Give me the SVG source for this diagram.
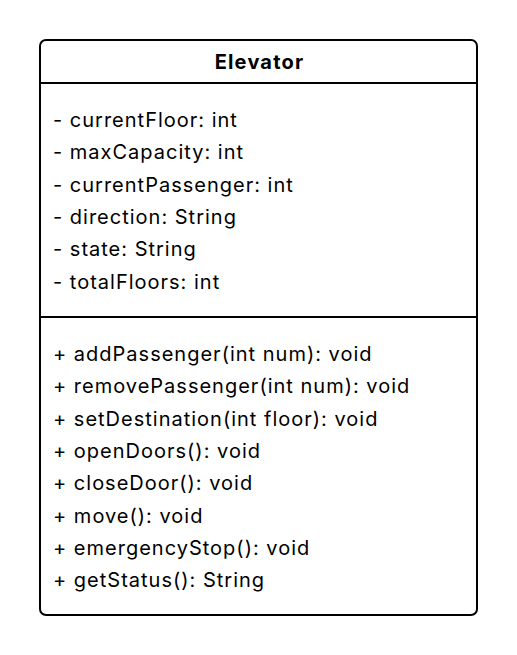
<svg xmlns="http://www.w3.org/2000/svg" width="517" height="655" viewBox="0 0 517 655">
<style>
text{font-family:Inter,"Liberation Sans",sans-serif;font-size:20px;letter-spacing:1px;fill:#000}
.t{font-weight:bold;text-anchor:middle;letter-spacing:1.2px}
.l{stroke:#000;stroke-width:2}
</style>
<rect width="517" height="655" fill="#fff"/>
<g id="Elevator">
<rect x="40" y="40" width="437" height="575" rx="6" fill="#fff" stroke="#000" stroke-width="2"/>
<line class="l" x1="40" y1="83" x2="477" y2="83"/>
<line class="l" x1="40" y1="317" x2="477" y2="317"/>
<text class="t" x="259.5" y="69">Elevator</text>
<text x="53" y="127">- currentFloor: int</text>
<text x="53" y="159">- maxCapacity: int</text>
<text x="53" y="192">- currentPassenger: int</text>
<text x="53" y="224">- direction: String</text>
<text x="53" y="256">- state: String</text>
<text x="53" y="289">- totalFloors: int</text>
<text x="53" y="361">+ addPassenger(int num): void</text>
<text x="53" y="393">+ removePassenger(int num): void</text>
<text x="53" y="426">+ setDestination(int floor): void</text>
<text x="53" y="458">+ openDoors(): void</text>
<text x="53" y="490">+ closeDoor(): void</text>
<text x="53" y="523">+ move(): void</text>
<text x="53" y="555">+ emergencyStop(): void</text>
<text x="53" y="587">+ getStatus(): String</text>
</g>
<g id="connectors"/>
</svg>
